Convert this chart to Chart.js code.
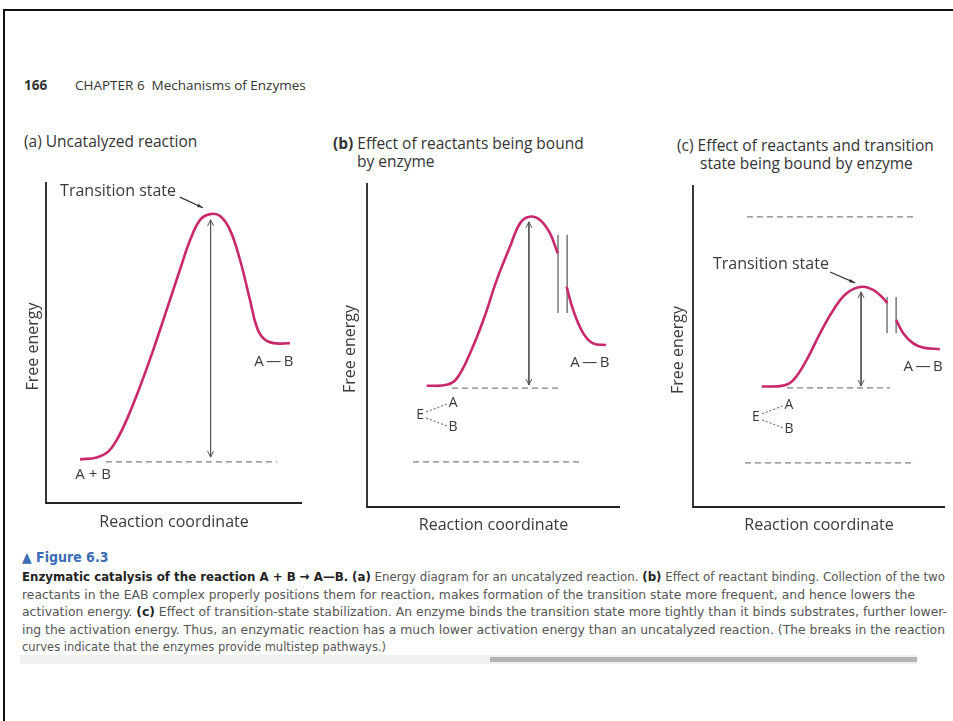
<!DOCTYPE html>
<html>
<head>
<meta charset="utf-8">
<title>Figure 6.3 – Enzymatic catalysis</title>
<script src="https://cdn.jsdelivr.net/npm/chart.js@4.4.1/dist/chart.umd.min.js"></script>
<style>
  html, body { margin: 0; padding: 0; background: #fff; }
  body { width: 953px; height: 721px; position: relative; overflow: hidden; font-family: "Open Sans", sans-serif; color: #333; }
  .frame-top { position: absolute; left: 3px; top: 9px; width: 950px; height: 2px; background: #111; }
  .frame-left { position: absolute; left: 3px; top: 9px; width: 2px; height: 712px; background: #111; }
  .t { position: absolute; white-space: nowrap; }
  .head { top: 77px; font-size: 13.5px; line-height: 17px; color: #333; }
  .panel-title { font-size: 15.5px; line-height: 18px; color: #333; }
  .box { position: absolute; }
  .cap { position: absolute; left: 22px; font-family: "Liberation Sans Narrow", "DejaVu Sans Condensed", sans-serif; font-size: 13px; line-height: 17.5px; color: #555; white-space: nowrap; transform-origin: 0 50%; }
  .cap b { color: #222; }
  .fig { top: 548px; color: #3b6cb4; font-weight: bold; font-size: 14px; line-height: 18px; }
  .bar-bg { position: absolute; left: 20px; top: 655px; width: 897px; height: 9px; background: #f0f0f0; }
  .bar { position: absolute; left: 490px; top: 657px; width: 427px; height: 5px; background: #b4b4b4; }
</style>
</head>
<body>
<div class="frame-top"></div>
<div class="frame-left"></div>

<div class="t head" style="left:24px;font-weight:bold;">166</div>
<div class="t head" style="left:75px;">CHAPTER 6&nbsp; Mechanisms of Enzymes</div>

<div class="t panel-title" style="left:24px;top:132px;">(a) Uncatalyzed reaction</div>
<div class="t panel-title" style="left:333px;top:134px;"><b>(b)</b> Effect of reactants being bound</div>
<div class="t panel-title" style="left:357px;top:152px;">by enzyme</div>
<div class="t panel-title" style="left:677px;top:136px;">(c) Effect of reactants and transition</div>
<div class="t panel-title" style="left:700px;top:154px;">state being bound by enzyme</div>

<div class="box" style="left:20px;top:175px;width:290px;height:360px;"><canvas id="chartA"></canvas></div>
<div class="box" style="left:335px;top:175px;width:295px;height:360px;"><canvas id="chartB"></canvas></div>
<div class="box" style="left:660px;top:175px;width:293px;height:360px;"><canvas id="chartC"></canvas></div>

<div class="cap fig">&#9650; Figure 6.3</div>
<div class="cap fit" data-w="923" style="top:568px;"><b>Enzymatic catalysis of the reaction A + B &rarr; A&mdash;B.</b> <b>(a)</b> Energy diagram for an uncatalyzed reaction. <b>(b)</b> Effect of reactant binding. Collection of the two</div>
<div class="cap fit" data-w="893" style="top:585.5px;">reactants in the EAB complex properly positions them for reaction, makes formation of the transition state more frequent, and hence lowers the</div>
<div class="cap fit" data-w="925" style="top:603px;">activation energy. <b>(c)</b> Effect of transition-state stabilization. An enzyme binds the transition state more tightly than it binds substrates, further lower-</div>
<div class="cap fit" data-w="923" style="top:620.5px;">ing the activation energy. Thus, an enzymatic reaction has a much lower activation energy than an uncatalyzed reaction. (The breaks in the reaction</div>
<div class="cap fit" data-w="364" style="top:638px;">curves indicate that the enzymes provide multistep pathways.)</div>
<div class="bar-bg"></div>
<div class="bar"></div>

<script>
// ---- data (free energy vs. reaction coordinate, arbitrary units 0-100) ----

// (a) uncatalyzed
const aCurveX = [13.3, 19.8, 24.3, 27.6, 31.5, 36.7, 41.9, 47.1, 52.3, 56.3, 60.2, 64.1, 68.0, 71.9, 75.8, 79.7, 82.3, 84.9, 88.8, 95.3];
const aCurveY = [13.6, 14.2, 16.0, 19.6, 25.9, 36.2, 47.7, 60.1, 72.6, 81.9, 88.2, 90.0, 89.4, 85.0, 75.7, 63.2, 54.9, 51.3, 49.8, 49.8];
const aDashX = [23.4, 90.2];
const aDashLevels = [12.8];
const aArrowX = 64.3;
const aArrowY = [88.2, 14.3];

// (b) reactants bound by enzyme (curve broken in two)
const bCurve1X = [23.6, 31.5, 35.5, 40.7, 46.0, 51.3, 56.5, 60.5, 64.2, 68.4, 72.3, 75.4];
const bCurve1Y = [37.4, 37.7, 39.7, 47.4, 57.7, 70.1, 80.3, 87.6, 89.6, 88.6, 84.5, 78.3];
const bCurve2X = [78.9, 81.5, 85.5, 89.4, 94.5];
const bCurve2Y = [68.0, 60.8, 53.6, 50.5, 50.0];
const bBreakX = [75.5, 79.1];
const bBreakY = [84.0, 59.9];
const bDashX = [[33.6, 76.3], [18.2, 85.4]];
const bDashLevels = [36.7, 13.9];
const bArrowX = 64.0;
const bArrowY = [88.0, 37.7];

// (c) reactants and transition state bound
const cCurve1X = [27.3, 35.8, 39.8, 45.1, 50.4, 55.7, 61.0, 66.9, 71.5, 75.5, 77.1];
const cCurve1Y = [37.4, 37.7, 39.4, 45.7, 53.9, 61.2, 66.4, 68.4, 67.4, 64.8, 63.3];
const cCurve2X = [80.6, 83.5, 87.4, 91.4, 98.0];
const cCurve2Y = [58.1, 53.9, 50.8, 49.5, 49.0];
const cBreakX = [77.0, 80.6];
const cBreakY = [65.2, 54.0];
const cDashX = [[21.4, 88.9], [37.3, 78.2], [20.6, 88.1]];
const cDashLevels = [90.1, 37.0, 13.7];
const cArrowX = 66.7;
const cArrowY = [66.8, 37.6];

// ---- styles ----
const CURVE = '#c8286c';
const DASH = '#808080';
const INK = '#3a3a3a';
const FONT = '"Open Sans", sans-serif';
const AB = 'A\u2009\u2014\u2009B';

function pts(xs, ys) { return xs.map((x, i) => ({ x: x, y: ys[i] })); }

function curveSet(xs, ys) {
  return { data: pts(xs, ys), showLine: true, borderColor: CURVE, borderWidth: 2.6, pointRadius: 0,
           tension: 0.4, clip: false };
}
function dashSet(x0, x1, level) {
  return { data: [{ x: x0, y: level }, { x: x1, y: level }], showLine: true, borderColor: DASH,
           borderWidth: 1.3, borderDash: [6, 4], pointRadius: 0 };
}
function breakSets(xs, ys) {
  return xs.map(x => ({ data: [{ x: x, y: ys[0] }, { x: x, y: ys[1] }], showLine: true,
                        borderColor: '#555', borderWidth: 1.2, pointRadius: 0 }));
}
function arrowSet(x, ys) {
  return { data: [{ x: x, y: ys[0] }, { x: x, y: ys[1] }], showLine: true, borderColor: '#555',
           borderWidth: 1, pointRadius: 0, isArrow: true };
}

// axes, arrowheads, axis titles and text labels
const figurePlugin = {
  id: 'figure',
  afterDatasetsDraw(chart, args, opts) {
    const ctx = chart.ctx, a = chart.chartArea;
    const xs = chart.scales.x, ys = chart.scales.y;
    ctx.save();
    // L-shaped axes
    ctx.strokeStyle = '#222';
    ctx.lineWidth = 1.8;
    ctx.beginPath();
    ctx.moveTo(a.left, a.top);
    ctx.lineTo(a.left, a.bottom);
    ctx.lineTo(a.right, a.bottom);
    ctx.stroke();

    // arrowheads on the double arrows
    chart.data.datasets.forEach((ds, i) => {
      if (!ds.isArrow) return;
      const p = chart.getDatasetMeta(i).data;
      [[p[0], p[1]], [p[1], p[0]]].forEach(([tip, from]) => {
        const dir = Math.sign(from.y - tip.y);
        ctx.strokeStyle = '#555';
        ctx.lineWidth = 1;
        ctx.beginPath();
        ctx.moveTo(tip.x - 3, tip.y + dir * 6);
        ctx.lineTo(tip.x, tip.y);
        ctx.lineTo(tip.x + 3, tip.y + dir * 6);
        ctx.stroke();
      });
    });

    // axis titles
    ctx.fillStyle = INK;
    ctx.font = '16px ' + FONT;
    ctx.textAlign = 'center';
    ctx.textBaseline = 'middle';
    ctx.fillText('Reaction coordinate', (a.left + a.right) / 2, a.bottom + opts.xTitleGap);
    ctx.save();
    ctx.translate(a.left - opts.yTitleGap, (a.top + a.bottom) / 2 + 4);
    ctx.rotate(-Math.PI / 2);
    ctx.fillText('Free energy', 0, 0);
    ctx.restore();

    // labels placed in data units
    (opts.labels || []).forEach(l => {
      ctx.font = (l.size || 16) + 'px ' + FONT;
      ctx.textAlign = l.align || 'center';
      ctx.fillText(l.text, xs.getPixelForValue(l.x), ys.getPixelForValue(l.y));
    });

    // pointer from "Transition state" to the peak
    if (opts.pointer) {
      const [x0, y0, x1, y1] = opts.pointer.map((v, k) => k % 2 ? ys.getPixelForValue(v) : xs.getPixelForValue(v));
      const ang = Math.atan2(y1 - y0, x1 - x0);
      ctx.strokeStyle = '#333';
      ctx.lineWidth = 1.2;
      ctx.beginPath();
      ctx.moveTo(x0, y0);
      ctx.lineTo(x1, y1);
      ctx.stroke();
      ctx.fillStyle = '#333';
      ctx.beginPath();
      ctx.moveTo(x1, y1);
      ctx.lineTo(x1 - 6 * Math.cos(ang - 0.3), y1 - 6 * Math.sin(ang - 0.3));
      ctx.lineTo(x1 - 6 * Math.cos(ang + 0.3), y1 - 6 * Math.sin(ang + 0.3));
      ctx.closePath();
      ctx.fill();
    }

    // E - - A / E - - B dotted connectors
    if (opts.complex) {
      const c = opts.complex;
      const ex = xs.getPixelForValue(c.x), ey = ys.getPixelForValue(c.y);
      ctx.fillStyle = INK;
      ctx.font = '14px ' + FONT;
      ctx.textAlign = 'center';
      ctx.fillText('E', ex, ey);
      ctx.fillText('A', ex + 33, ey - 12);
      ctx.fillText('B', ex + 33, ey + 12);
      ctx.strokeStyle = '#555';
      ctx.lineWidth = 1;
      ctx.setLineDash([2, 2]);
      ctx.beginPath();
      ctx.moveTo(ex + 6, ey - 3); ctx.lineTo(ex + 27, ey - 11);
      ctx.moveTo(ex + 6, ey + 3); ctx.lineTo(ex + 27, ey + 11);
      ctx.stroke();
      ctx.setLineDash([]);
    }
    ctx.restore();
  }
};

function makeChart(id, datasets, padding, fig) {
  return new Chart(document.getElementById(id), {
    type: 'scatter',
    data: { datasets: datasets },
    options: {
      responsive: true,
      maintainAspectRatio: false,
      animation: false,
      layout: { padding: padding },
      scales: {
        x: { type: 'linear', min: 0, max: 100, display: false },
        y: { type: 'linear', min: 0, max: 100, display: false }
      },
      plugins: { legend: { display: false }, tooltip: { enabled: false }, figure: fig }
    },
    plugins: [figurePlugin]
  });
}

// (a)
makeChart('chartA', [
  curveSet(aCurveX, aCurveY),
  ...aDashLevels.map(l => dashSet(aDashX[0], aDashX[1], l)),
  arrowSet(aArrowX, aArrowY)
], { left: 26, top: 7, right: 8, bottom: 32 }, {
  xTitleGap: 19, yTitleGap: 13,
  labels: [
    { text: 'Transition state', x: 5.5, y: 97.2, align: 'left' },
    { text: AB, x: 89, y: 43.9, size: 15 },
    { text: 'A + B', x: 18.4, y: 8.7, size: 15 }
  ],
  pointer: [52.3, 95.3, 61.3, 92.0]
});

// (b)
makeChart('chartB', [
  curveSet(bCurve1X, bCurve1Y),
  curveSet(bCurve2X, bCurve2Y),
  ...breakSets(bBreakX, bBreakY),
  ...bDashLevels.map((l, i) => dashSet(bDashX[i][0], bDashX[i][1], l)),
  arrowSet(bArrowX, bArrowY)
], { left: 32, top: 8, right: 10, bottom: 28 }, {
  xTitleGap: 18, yTitleGap: 17,
  labels: [
    { text: AB, x: 88.1, y: 44.4, size: 15 }
  ],
  complex: { x: 21, y: 28.4 }
});

// (c)
makeChart('chartC', [
  curveSet(cCurve1X, cCurve1Y),
  curveSet(cCurve2X, cCurve2Y),
  ...breakSets(cBreakX, cBreakY),
  ...cDashLevels.map((l, i) => dashSet(cDashX[i][0], cDashX[i][1], l)),
  arrowSet(cArrowX, cArrowY)
], { left: 33, top: 10, right: 8, bottom: 28 }, {
  xTitleGap: 18, yTitleGap: 15,
  labels: [
    { text: 'Transition state', x: 7.9, y: 75.2, align: 'left' },
    { text: AB, x: 91.3, y: 43.5, size: 15 }
  ],
  pointer: [54.4, 73.0, 64.3, 69.6],
  complex: { x: 25, y: 28 }
});

// squeeze/stretch each caption line to the width it has in the printed page
document.querySelectorAll('.cap.fit').forEach(el => {
  const w = el.getBoundingClientRect().width;
  el.style.transform = 'scaleX(' + (parseFloat(el.dataset.w) / w) + ')';
});
</script>
</body>
</html>
